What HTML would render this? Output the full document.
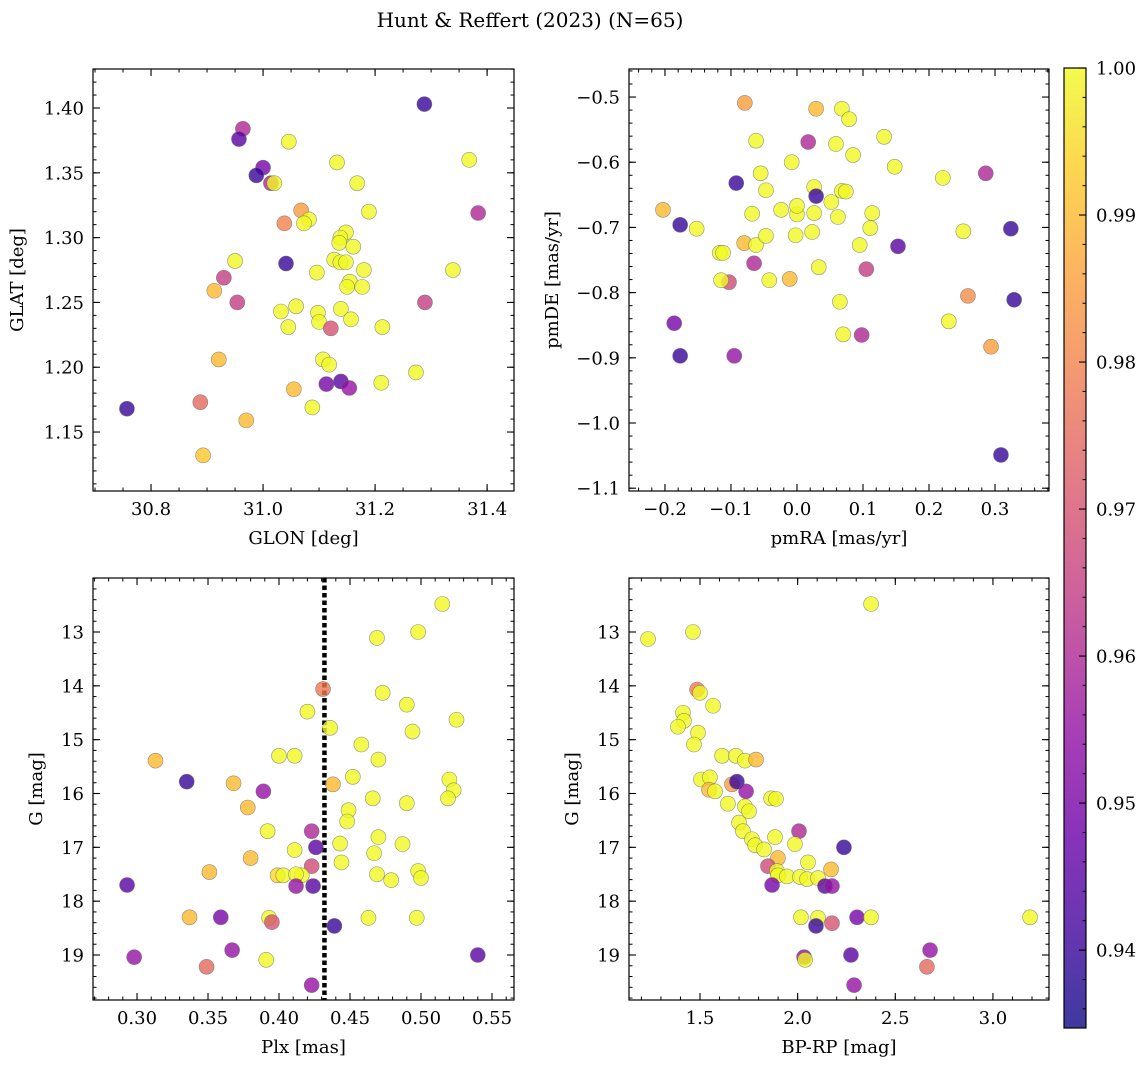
<!DOCTYPE html>
<html><head><meta charset="utf-8"><style>
html,body{margin:0;padding:0;background:#fff;}
svg{display:block;font-family:"DejaVu Serif","Liberation Serif",serif;}
</style></head><body>
<svg id="fig" width="1148" height="1068" viewBox="0 0 1148 1068" xmlns="http://www.w3.org/2000/svg">
<rect width="1148" height="1068" fill="#fff"/>
<text x="530" y="27" font-size="20" text-anchor="middle" fill="#000">Hunt &amp; Reffert (2023) (N=65)</text>
</svg>
<script>
// ---- data ----
const glon=[31.288,30.964,30.957,31.000,30.988,31.014,31.020,31.046,31.132,31.368,31.168,31.384,31.068,31.038,31.082,31.073,31.189,31.148,31.138,31.136,31.161,30.950,31.041,31.127,31.138,31.148,31.096,31.180,31.339,30.930,31.155,31.150,31.177,30.913,30.954,31.289,31.059,31.032,31.098,31.139,31.157,31.045,31.100,31.121,31.213,30.921,31.107,31.118,31.273,31.113,31.139,31.154,31.055,31.211,31.088,30.757,30.888,30.970,30.893];
const glat=[1.403,1.384,1.376,1.354,1.348,1.342,1.342,1.374,1.358,1.360,1.342,1.319,1.321,1.311,1.314,1.311,1.320,1.304,1.300,1.296,1.293,1.282,1.280,1.283,1.281,1.281,1.273,1.275,1.275,1.269,1.266,1.262,1.262,1.259,1.250,1.250,1.247,1.243,1.242,1.245,1.237,1.231,1.235,1.230,1.231,1.206,1.206,1.202,1.196,1.187,1.189,1.184,1.183,1.188,1.169,1.168,1.173,1.159,1.132];
const probA=[0.94,0.96,0.945,0.95,0.94,0.96,1,1,1,1,1,0.96,0.985,0.98,1,1,1,1,1,1,1,1,0.94,1,1,1,1,1,1,0.965,1,1,1,0.99,0.965,0.965,1,1,1,1,1,1,1,0.97,1,0.99,1,1,1,0.95,0.945,0.955,0.99,1,1,0.94,0.975,0.99,0.992];

const pmra=[-0.079,0.029,0.068,0.079,0.017,-0.062,0.059,0.132,-0.055,0.085,-0.008,0.148,-0.047,-0.092,-0.203,-0.177,-0.152,-0.117,-0.112,-0.080,-0.062,-0.068,-0.047,-0.065,-0.024,0.000,0.000,0.026,0.029,0.026,0.023,-0.002,0.052,0.062,0.068,0.074,0.095,0.111,0.114,0.033,0.105,0.153,0.221,0.252,0.286,0.324,-0.103,-0.115,-0.042,-0.011,0.259,0.329,0.065,0.230,-0.186,-0.177,-0.095,0.070,0.098,0.294,0.309];
const pmde=[-0.509,-0.518,-0.518,-0.534,-0.569,-0.567,-0.572,-0.561,-0.617,-0.589,-0.600,-0.607,-0.643,-0.632,-0.673,-0.696,-0.702,-0.739,-0.739,-0.724,-0.727,-0.679,-0.713,-0.755,-0.673,-0.680,-0.667,-0.638,-0.652,-0.678,-0.707,-0.712,-0.661,-0.684,-0.644,-0.645,-0.727,-0.701,-0.678,-0.761,-0.764,-0.729,-0.624,-0.706,-0.617,-0.702,-0.784,-0.781,-0.781,-0.779,-0.805,-0.811,-0.814,-0.844,-0.847,-0.897,-0.897,-0.864,-0.865,-0.883,-1.049];
const probB=[0.985,0.99,1,1,0.96,1,1,1,1,1,1,1,1,0.94,0.99,0.94,1,1,1,0.99,1,1,1,0.96,1,1,1,1,0.94,1,1,1,1,1,1,1,1,1,1,1,0.965,0.945,1,1,0.96,0.94,0.968,1,1,0.99,0.982,0.94,1,1,0.95,0.94,0.955,1,0.96,0.985,0.94];

const plx=[0.515,0.469,0.498,0.431,0.473,0.420,0.436,0.490,0.525,0.494,0.313,0.335,0.400,0.411,0.458,0.470,0.452,0.368,0.389,0.438,0.378,0.466,0.490,0.520,0.523,0.519,0.449,0.448,0.392,0.423,0.470,0.487,0.443,0.411,0.426,0.467,0.380,0.423,0.444,0.351,0.399,0.403,0.416,0.412,0.469,0.479,0.498,0.500,0.293,0.412,0.424,0.337,0.359,0.393,0.395,0.463,0.497,0.439,0.367,0.391,0.298,0.349,0.423,0.540];
const gmagC=[12.48,13.11,13.0,14.06,14.13,14.48,14.78,14.35,14.63,14.85,15.39,15.78,15.30,15.30,15.09,15.37,15.69,15.81,15.96,15.83,16.26,16.09,16.18,15.74,15.94,16.09,16.31,16.52,16.70,16.70,16.81,16.94,16.93,17.05,17.00,17.11,17.20,17.35,17.28,17.46,17.52,17.52,17.52,17.50,17.50,17.61,17.44,17.57,17.70,17.72,17.72,18.30,18.30,18.31,18.39,18.31,18.31,18.46,18.91,19.09,19.04,19.22,19.56,19.0];
const probC=[1,1,1,0.978,1,1,1,1,1,1,0.99,0.94,1,1,1,1,1,0.99,0.955,0.99,0.99,1,1,1,1,1,1,1,1,0.96,1,1,1,1,0.945,1,0.99,0.968,1,0.99,0.995,1,1,1,1,1,1,1,0.945,0.955,0.945,0.99,0.95,1,0.97,1,1,0.94,0.955,1,0.955,0.975,0.955,0.945];
const plxCut=[0.432];

const bprp=[1.234,1.464,2.376,1.485,1.500,1.413,1.418,1.387,1.490,1.567,1.469,1.613,1.684,1.730,1.787,1.505,1.551,1.546,1.577,1.664,1.689,1.736,1.643,1.700,1.730,1.751,1.864,1.889,1.720,2.007,1.884,1.766,1.782,1.828,1.986,2.237,1.899,2.053,1.848,2.171,1.894,1.899,1.945,2.012,2.048,2.104,1.869,2.140,2.176,2.017,2.104,2.304,2.376,3.190,2.176,2.094,2.033,2.038,2.273,2.678,2.662,2.289];
const gmagD=[13.13,13.0,12.48,14.07,14.13,14.50,14.65,14.76,14.87,14.37,15.09,15.30,15.30,15.39,15.37,15.74,15.70,15.93,15.96,15.83,15.78,15.96,16.19,16.54,16.24,16.33,16.09,16.10,16.70,16.70,16.81,16.85,16.96,17.04,16.94,17.00,17.20,17.28,17.35,17.41,17.44,17.52,17.54,17.55,17.59,17.57,17.70,17.72,17.72,18.30,18.31,18.30,18.30,18.30,18.41,18.46,19.04,19.09,19.00,18.91,19.22,19.56];
const probD=[1,1,1,0.978,1,1,1,1,1,1,1,1,1,1,0.99,1,1,0.99,1,0.985,0.94,0.955,1,1,1,1,1,1,1,0.96,1,1,1,1,1,0.94,0.99,1,0.968,0.99,1,1,1,1,1,1,0.95,0.945,0.955,1,1,0.95,1,1,0.97,0.94,0.955,1,0.945,0.955,0.975,0.955];

const cbTicks=[0.94,0.95,0.96,0.97,0.98,0.99,1.00];
const VMIN=0.9347, VMAX=1.0;

// ---- helpers ----
const NS="http://www.w3.org/2000/svg";
const svg=document.getElementById('fig');
const FS=18;
function mk(tag,attrs,parent){const e=document.createElementNS(NS,tag);for(const k in attrs)e.setAttribute(k,attrs[k]);(parent||svg).appendChild(e);return e;}
const stops=[[13,8,135],[65,4,157],[106,0,168],[143,13,164],[177,42,144],[204,71,120],[225,100,98],[242,132,75],[252,166,54],[252,206,37],[240,249,33]];
function plasma(t){t=Math.max(0,Math.min(1,t));const f=t*10,i=Math.min(9,Math.floor(f)),r=f-i;const a=stops[i],b=stops[i+1];
 return `rgb(${Math.round(a[0]+(b[0]-a[0])*r)},${Math.round(a[1]+(b[1]-a[1])*r)},${Math.round(a[2]+(b[2]-a[2])*r)})`;}
function norm(p){return (p-VMIN)/(VMAX-VMIN);}
function fmt(v,d){const s=Math.abs(v).toFixed(d);return (v<-1e-9?'\u2212':'')+s;}

function panel(cfg){
 const g=mk('g',{});
 
 
 const {L,R,T,B,xd,yd}=cfg;
 const sx=v=>L+(v-xd[0])/(xd[1]-xd[0])*(R-L);
 const sy=v=>cfg.invert? T+(v-yd[0])/(yd[1]-yd[0])*(B-T) : B-(v-yd[0])/(yd[1]-yd[0])*(B-T);
 const clipId=cfg.name+'-clip';
 const cp=mk('clipPath',{id:clipId},g);mk('rect',{x:L,y:T,width:R-L,height:B-T},cp);
 const pg=mk('g',{'clip-path':`url(#${clipId})`},g);
 if(cfg.vline){const l=mk('line',{x1:sx(cfg.vline),x2:sx(cfg.vline),y1:T,y2:B,stroke:'#000','stroke-width':4.5,'stroke-dasharray':'4.5 3'},pg);
  
  }
 for(let i=0;i<cfg.x.length;i++){
  const c=mk('circle',{cx:sx(cfg.x[i]),cy:sy(cfg.y[i]),r:7.5,fill:plasma(norm(cfg.p[i])),'fill-opacity':0.8,stroke:'#666','stroke-opacity':0.7,'stroke-width':0.6},pg);
  
  
 }
 mk('rect',{x:L,y:T,width:R-L,height:B-T,fill:'none',stroke:'#000','stroke-width':1.2},g);
 const eps=1e-9;
 for(let v=Math.ceil(xd[0]/cfg.xmin-eps)*cfg.xmin;v<=xd[1]+eps;v+=cfg.xmin){const X=sx(v);
  mk('line',{x1:X,x2:X,y1:B,y2:B-3.5,stroke:'#000','stroke-width':1},g);mk('line',{x1:X,x2:X,y1:T,y2:T+3.5,stroke:'#000','stroke-width':1},g);}
 let yl=Math.min(yd[0],yd[1]),yh=Math.max(yd[0],yd[1]);
 for(let v=Math.ceil(yl/cfg.ymin-eps)*cfg.ymin;v<=yh+eps;v+=cfg.ymin){const Y=sy(v);
  mk('line',{x1:L,x2:L+3.5,y1:Y,y2:Y,stroke:'#000','stroke-width':1},g);mk('line',{x1:R,x2:R-3.5,y1:Y,y2:Y,stroke:'#000','stroke-width':1},g);}
 cfg.xt.forEach(v=>{const X=sx(v);
  mk('line',{x1:X,x2:X,y1:B,y2:B-7,stroke:'#000','stroke-width':1.1},g);mk('line',{x1:X,x2:X,y1:T,y2:T+7,stroke:'#000','stroke-width':1.1},g);
  const t=mk('text',{x:X,y:B+24,'font-size':FS,'text-anchor':'middle'},g);t.textContent=fmt(v,cfg.xdec);
  
  });
 cfg.yt.forEach(v=>{const Y=sy(v);
  mk('line',{x1:L,x2:L+7,y1:Y,y2:Y,stroke:'#000','stroke-width':1.1},g);mk('line',{x1:R,x2:R-7,y1:Y,y2:Y,stroke:'#000','stroke-width':1.1},g);
  const t=mk('text',{x:L-9,y:Y+6.5,'font-size':FS,'text-anchor':'end'},g);t.textContent=fmt(v,cfg.ydec);
  
  });
 const xt=mk('text',{x:(L+R)/2,y:B+53,'font-size':FS,'text-anchor':'middle'},g);xt.textContent=cfg.xlabel;
 
 
 const yx=cfg.ylx, yc=(T+B)/2;
 const yt=mk('text',{x:yx,y:yc,'font-size':FS,'text-anchor':'middle',transform:`rotate(-90 ${yx} ${yc})`},g);yt.textContent=cfg.ylabel;
 
 
}
function rng(a,b,s){const r=[];for(let v=a;v<=b+1e-9;v+=s)r.push(Math.round(v*1000)/1000);return r;}

panel({name:'glon-glat-panel',L:93,R:514,T:69,B:491,xd:[30.6964,31.448],yd:[1.1045,1.4301],x:glon,y:glat,p:probA,
 xt:[30.8,31.0,31.2,31.4],yt:rng(1.15,1.40,0.05),xmin:0.05,ymin:0.01,xdec:1,ydec:2,xlabel:'GLON [deg]',ylabel:'GLAT [deg]',ylx:23});
panel({name:'pm-panel',L:629,R:1049,T:69,B:491,xd:[-0.2545,0.3818],yd:[-1.1043,-0.457],x:pmra,y:pmde,p:probB,
 xt:rng(-0.2,0.3,0.1),yt:rng(-1.1,-0.5,0.1),xmin:0.02,ymin:0.02,xdec:1,ydec:1,xlabel:'pmRA [mas/yr]',ylabel:'pmDE [mas/yr]',ylx:558});
panel({name:'plx-g-panel',L:93,R:514,T:578,B:1000,xd:[0.2690,0.5655],yd:[11.997,19.836],invert:true,x:plx,y:gmagC,p:probC,vline:plxCut[0],
 xt:rng(0.30,0.55,0.05),yt:rng(13,19,1),xmin:0.01,ymin:0.2,xdec:2,ydec:0,xlabel:'Plx [mas]',ylabel:'G [mag]',ylx:42});
panel({name:'cmd-panel',L:629,R:1049,T:578,B:1000,xd:[1.1365,3.287],yd:[11.997,19.836],invert:true,x:bprp,y:gmagD,p:probD,
 xt:[1.5,2.0,2.5,3.0],yt:rng(13,19,1),xmin:0.1,ymin:0.2,xdec:1,ydec:0,xlabel:'BP-RP [mag]',ylabel:'G [mag]',ylx:578});

// colorbar
(function(){
 const L=1064,R=1086,T=68,B=1028;
 const cg=mk('g',{});
 
 
 const defs=mk('defs',{},cg);
 const lg=mk('linearGradient',{id:'cbgrad',x1:0,y1:1,x2:0,y2:0},defs);
 for(let i=0;i<=20;i++){mk('stop',{offset:i/20,'stop-color':plasma(i/20)},lg);}
 mk('rect',{x:L,y:T,width:R-L,height:B-T,fill:'url(#cbgrad)','fill-opacity':0.8},cg);
 mk('rect',{x:L,y:T,width:R-L,height:B-T,fill:'none',stroke:'#000','stroke-width':1.2},cg);
 const sy=v=>B-(v-VMIN)/(VMAX-VMIN)*(B-T);
 for(let v=0.936;v<=1.0001;v+=0.002){const Y=sy(v);mk('line',{x1:R,x2:R-3.5,y1:Y,y2:Y,stroke:'#000','stroke-width':1},cg);}
 cbTicks.forEach(v=>{const Y=sy(v);mk('line',{x1:R,x2:R-7,y1:Y,y2:Y,stroke:'#000','stroke-width':1.1},cg);
  const t=mk('text',{x:R+10,y:Y+6.5,'font-size':FS},cg);t.textContent=v.toFixed(2);
  
  });
})();
</script>
</body></html>
